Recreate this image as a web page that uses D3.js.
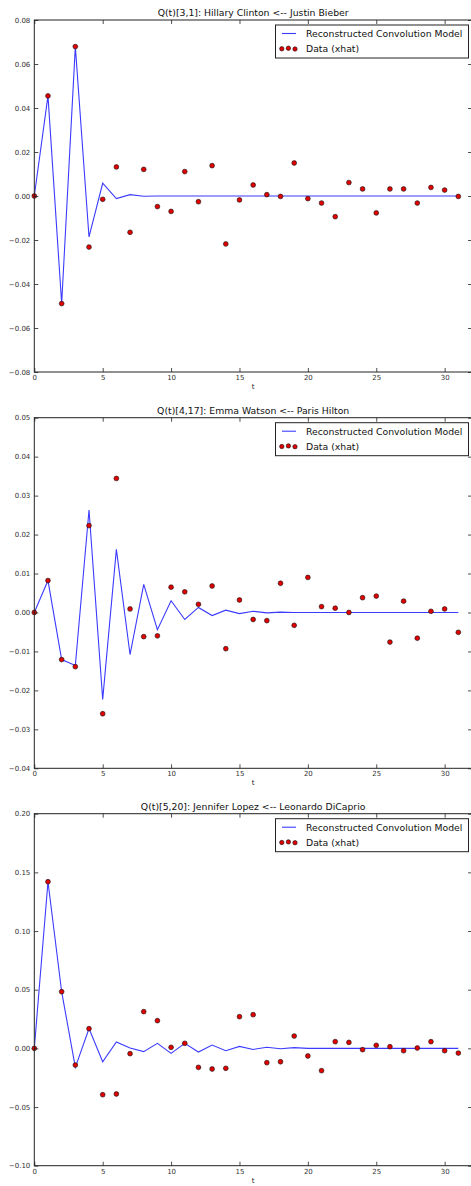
<!DOCTYPE html>
<html>
<head>
<meta charset="utf-8">
<script src="https://cdn.jsdelivr.net/npm/d3@7"></script>
<style>
  html, body { margin: 0; padding: 0; background: #fff; }
  svg { display: block; }
  text { font-family: "DejaVu Sans", sans-serif; }
</style>
</head>
<body>
<script>
// ---------- data ----------
const tValues = d3.range(0, 32);

const titles = [
  "Q(t)[3,1]: Hillary Clinton <-- Justin Bieber",
  "Q(t)[4,17]: Emma Watson <-- Paris Hilton",
  "Q(t)[5,20]: Jennifer Lopez <-- Leonardo DiCaprio"
];

const xTicks = [0, 5, 10, 15, 20, 25, 30];
const yTicks1 = [-0.08, -0.06, -0.04, -0.02, 0.00, 0.02, 0.04, 0.06, 0.08];
const yTicks2 = [-0.04, -0.03, -0.02, -0.01, 0.00, 0.01, 0.02, 0.03, 0.04, 0.05];
const yTicks3 = [-0.10, -0.05, 0.00, 0.05, 0.10, 0.15, 0.20];

const model1 = [0, 0.0455, -0.0489, 0.0679, -0.0186, 0.0058, -0.0012, 0.0006, -0.0001, 0, 0, 0, 0, 0, 0, 0,
  0, 0, 0, 0, 0, 0, 0, 0, 0, 0, 0, 0, 0, 0, 0, 0];
const data1 = [0, 0.0455, -0.0489, 0.0679, -0.0232, -0.0015, 0.0132, -0.0165, 0.0121, -0.0048, -0.0070, 0.0111,
  -0.0026, 0.0138, -0.0218, -0.0018, 0.0050, 0.0006, -0.0002, 0.0150, -0.0012, -0.0032, -0.0094, 0.0061,
  0.0032, -0.0077, 0.0032, 0.0032, -0.0032, 0.0039, 0.0027, -0.0002];

const model2 = [0, 0.0082, -0.0121, -0.0136, 0.0263, -0.0223, 0.0162, -0.0108, 0.0072, -0.0044, 0.0030, -0.0018,
  0.0013, -0.0008, 0.0006, -0.0003, 0.0003, -0.0001, 0.0001, 0, 0, 0, 0, 0, 0, 0, 0, 0, 0, 0, 0, 0];
const data2 = [0, 0.0082, -0.0121, -0.0139, 0.0223, -0.0260, 0.0344, 0.0009, -0.0062, -0.0060, 0.0065, 0.0053,
  0.0021, 0.0068, -0.0093, 0.0032, -0.0018, -0.0021, 0.0075, -0.0033, 0.0090, 0.0015, 0.0011, 0.0000,
  0.0038, 0.0042, -0.0076, 0.0029, -0.0066, 0.0003, 0.0009, -0.0051];

const model3 = [0, 0.1420, 0.0483, -0.0162, 0.0168, -0.0114, 0.0054, 0.0003, -0.0028, 0.0043, -0.0043, 0.0043,
  -0.0031, 0.0028, -0.0020, 0.0017, -0.0009, 0.0009, -0.0003, 0.0006, 0, 0, 0, 0, 0, 0, 0, 0, 0, 0, 0, 0];
const data3 = [0, 0.1420, 0.0483, -0.0142, 0.0168, -0.0395, -0.0389, -0.0045, 0.0313, 0.0236, 0.0009, 0.0043,
  -0.0162, -0.0176, -0.0170, 0.0270, 0.0287, -0.0122, -0.0114, 0.0105, -0.0065, -0.0190, 0.0057, 0.0051,
  -0.0011, 0.0026, 0.0014, -0.0020, 0.0003, 0.0057, -0.0020, -0.0040];

const legendLabels = ["Reconstructed Convolution Model", "Data (xhat)"];

// ---------- layout ----------
const W = 471, H = 1186;
const left = 34.3, right = 472;
const panels = [
  { top: 20, bottom: 372, domain: [-0.08, 0.08], ticks: yTicks1, model: model1, data: data1, title: titles[0] },
  { top: 417.7, bottom: 768.3, domain: [-0.04, 0.05], ticks: yTicks2, model: model2, data: data2, title: titles[1] },
  { top: 813.7, bottom: 1165.7, domain: [-0.10, 0.20], ticks: yTicks3, model: model3, data: data3, title: titles[2] }
];

const svg = d3.select("body").append("svg").attr("width", W).attr("height", H);
const fmt = d3.format(".2f");
const tickFmt = v => fmt(v).replace("-", "\u2212");
const lineColor = "#3b3bff";
const spineColor = "#222";

panels.forEach(p => {
  const x = d3.scaleLinear().domain([0, 32]).range([left, right]);
  const y = d3.scaleLinear().domain(p.domain).range([p.bottom, p.top]);
  const g = svg.append("g");

  const cid = "clip" + Math.round(p.top);
  g.append("clipPath").attr("id", cid).append("rect")
    .attr("x", left).attr("y", p.top).attr("width", right - left).attr("height", p.bottom - p.top);

  // model line
  g.append("path")
    .datum(p.model)
    .attr("clip-path", `url(#${cid})`)
    .attr("fill", "none")
    .attr("stroke", lineColor)
    .attr("stroke-width", 1.1)
    .attr("d", d3.line().x((d, i) => x(tValues[i])).y(d => y(d)));

  // data points
  g.append("g").selectAll("circle").data(p.data).join("circle")
    .attr("cx", (d, i) => x(tValues[i]))
    .attr("cy", d => y(d))
    .attr("r", 2.4)
    .attr("fill", "#e00000")
    .attr("stroke", "#111")
    .attr("stroke-width", 0.6);

  // axes (ticks inward on all sides)
  const tickLen = 4;
  const bottomAx = d3.axisBottom(x).tickValues(xTicks).tickSize(-tickLen).tickPadding(3).tickFormat(d3.format("d"));
  const topAx = d3.axisTop(x).tickValues(xTicks).tickSize(-tickLen).tickFormat("");
  const leftAx = d3.axisLeft(y).tickValues(p.ticks).tickSize(-tickLen).tickPadding(4).tickFormat(tickFmt);
  const rightAx = d3.axisRight(y).tickValues(p.ticks).tickSize(-tickLen).tickFormat("");

  const styleAx = sel => {
    sel.select(".domain").remove();
    sel.selectAll(".tick line").attr("stroke", spineColor).attr("stroke-width", 0.8);
    sel.selectAll("text").attr("fill", "#333").style("font-size", "7px").style("font-family", "DejaVu Sans");
  };
  g.append("g").attr("transform", `translate(0,${p.bottom})`).call(bottomAx).call(styleAx);
  g.append("g").attr("transform", `translate(0,${p.top})`).call(topAx).call(styleAx);
  g.append("g").attr("transform", `translate(${left},0)`).call(leftAx).call(styleAx);
  g.append("g").attr("transform", `translate(${right},0)`).call(rightAx).call(styleAx);

  // frame
  g.append("rect")
    .attr("x", left).attr("y", p.top).attr("width", right - left).attr("height", p.bottom - p.top)
    .attr("fill", "none").attr("stroke", spineColor).attr("stroke-width", 1);

  // title
  g.append("text")
    .attr("x", (left + right) / 2).attr("y", p.top - 4)
    .attr("text-anchor", "middle")
    .style("font-size", "9.3px").attr("fill", "#111")
    .text(p.title);

  // x label
  g.append("text")
    .attr("x", (left + right) / 2).attr("y", p.bottom + 17)
    .attr("text-anchor", "middle")
    .style("font-size", "7px").attr("fill", "#222")
    .text("t");

  // legend
  const lx = 275.5, ly = p.top + 5, lw = 193, lh = 33;
  const lg = g.append("g");
  lg.append("rect").attr("x", lx).attr("y", ly).attr("width", lw).attr("height", lh)
    .attr("fill", "#fff").attr("stroke", spineColor).attr("stroke-width", 1);
  lg.append("line").attr("x1", lx + 6.5).attr("x2", lx + 20.5)
    .attr("y1", ly + 8.5).attr("y2", ly + 8.5)
    .attr("stroke", lineColor).attr("stroke-width", 1.1);
  const dotOffsets = [[6.3, 23.8], [12.9, 23.2], [19.5, 24.0]];
  dotOffsets.forEach(([dx, dy]) => {
    lg.append("circle").attr("cx", lx + dx).attr("cy", ly + dy).attr("r", 2.2)
      .attr("fill", "#e00000").attr("stroke", "#111").attr("stroke-width", 0.6);
  });
  legendLabels.forEach((lab, i) => {
    lg.append("text").attr("x", lx + 30.5).attr("y", ly + 11.8 + i * 15)
      .style("font-size", "9.3px").attr("fill", "#111").text(lab);
  });
});
</script>
</body>
</html>
